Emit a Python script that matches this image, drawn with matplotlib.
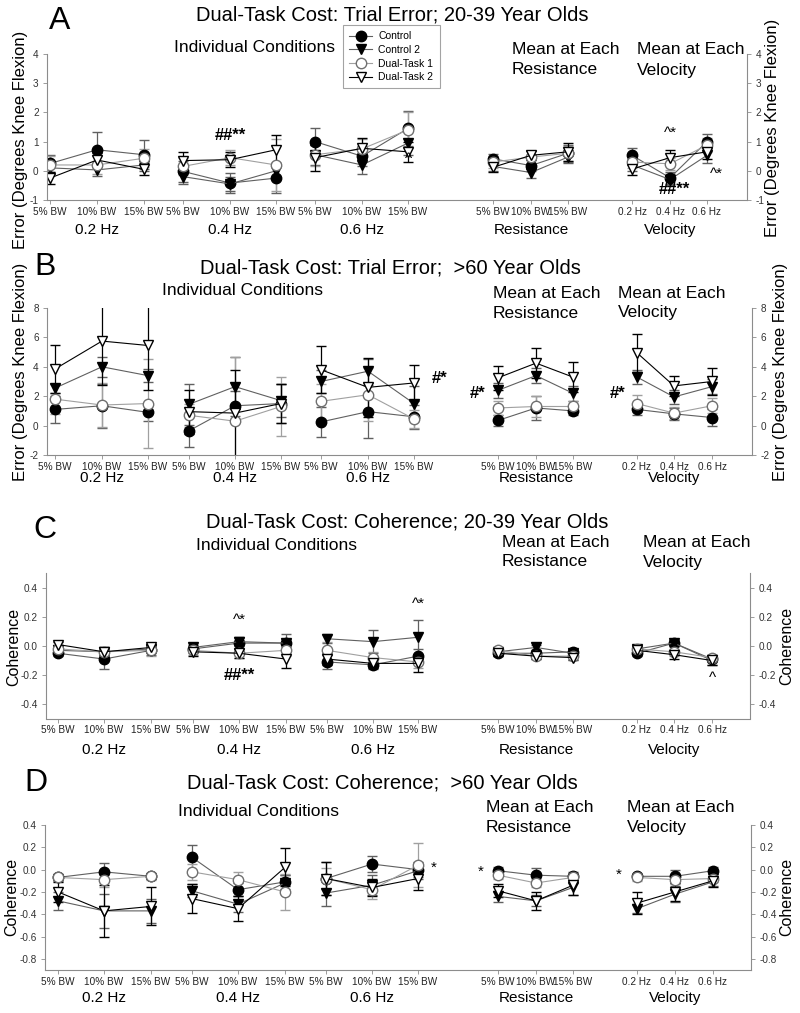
import matplotlib
matplotlib.use("Agg")
import matplotlib.pyplot as plt
from matplotlib.lines import Line2D
from matplotlib.ticker import FormatStrFormatter

plt.rcParams["font.family"] = ["Liberation Sans", "DejaVu Sans"]
plt.rcParams["axes.unicode_minus"] = False

W, H = 800, 1013

# x tick labels: 9 individual conditions, 3 resistances, 3 velocities
conditions = ["5% BW", "10% BW", "15% BW"] * 4 + ["0.2 Hz", "0.4 Hz", "0.6 Hz"]
groups = ["0.2 Hz", "0.4 Hz", "0.6 Hz", "Resistance", "Velocity"]
series_names = ["Control", "Control 2", "Dual-Task 1", "Dual-Task 2"]

# category positions (pixels across the page) for each panel
a_x = [50, 97, 144, 183, 230, 276, 315, 362, 408, 493, 531, 568, 632, 670, 707]
b_x = [55, 102, 148, 189, 235, 281, 321, 368, 414, 498, 536, 573, 637, 674, 712]
c_x = [58, 104, 151, 193, 239, 286, 327, 373, 418, 498, 536, 573, 637, 674, 712]
d_x = [58, 104, 151, 192, 238, 285, 326, 372, 418, 498, 536, 573, 637, 675, 713]

# A: trial error, 20-39 year olds
a_control = [0.25, 0.72, 0.55, -0.02, -0.42, -0.25, 1.0, 0.5, 1.45, 0.41, 0.18, 0.6, 0.53, -0.24, 1.0]
a_control2 = [0.1, 0.03, 0.2, -0.2, -0.45, 0.0, 0.55, 0.2, 0.95, 0.15, -0.06, 0.47, 0.2, -0.3, 0.53]
a_dt1 = [0.2, 0.2, 0.43, 0.15, 0.45, 0.2, 0.55, 0.75, 1.4, 0.3, 0.47, 0.6, 0.3, 0.24, 0.88]
a_dt2 = [-0.25, 0.37, 0.05, 0.35, 0.38, 0.72, 0.45, 0.77, 0.65, 0.12, 0.53, 0.65, 0.06, 0.45, 0.65]
a_control_err = [0.28, 0.6, 0.5, 0.35, 0.35, 0.5, 0.45, 0.35, 0.6, 0.15, 0.2, 0.3, 0.25, 0.2, 0.25]
a_control2_err = [0.2, 0.2, 0.2, 0.25, 0.25, 0.25, 0.35, 0.3, 0.4, 0.15, 0.2, 0.2, 0.2, 0.2, 0.25]
a_dt1_err = [0.3, 0.3, 0.3, 0.3, 0.25, 0.9, 0.4, 0.35, 0.6, 0.2, 0.2, 0.25, 0.2, 0.2, 0.25]
a_dt2_err = [0.2, 0.25, 0.2, 0.3, 0.25, 0.5, 0.45, 0.35, 0.35, 0.15, 0.15, 0.3, 0.2, 0.25, 0.25]
a_notes = [("##**", 230, 1.2), ("^", 408, 0.42), ("^*", 670, 1.3), ("##**", 674, -0.65), ("^*", 716, -0.1)]

# B: trial error, >60 year olds
b_control = [1.1, 1.35, 0.9, -0.35, 1.35, 1.5, 0.25, 0.95, 0.6, 0.35, 1.2, 1.0, 1.1, 0.8, 0.55]
b_control2 = [2.55, 4.0, 3.4, 1.45, 2.65, 1.7, 3.0, 3.7, 1.5, 2.4, 3.4, 2.2, 3.3, 1.95, 2.65]
b_dt1 = [1.8, 1.4, 1.5, 0.7, 0.3, 1.3, 1.65, 2.1, 0.45, 1.2, 1.3, 1.3, 1.5, 0.85, 1.35]
b_dt2 = [3.85, 5.75, 5.45, 0.95, 0.85, 1.5, 3.8, 2.6, 2.9, 3.25, 4.25, 3.3, 4.95, 2.7, 3.0]
b_control_err = [0.9, 1.5, 0.6, 1.1, 1.0, 1.3, 1.0, 1.8, 0.8, 0.4, 0.8, 0.3, 0.4, 0.4, 0.6]
b_control2_err = [0.3, 0.7, 0.45, 1.4, 2.0, 1.1, 0.8, 0.8, 1.2, 0.5, 0.5, 0.5, 0.5, 0.5, 0.5]
b_dt1_err = [1.0, 1.5, 3.0, 0.8, 4.4, 2.0, 1.2, 1.8, 0.6, 0.5, 0.7, 0.4, 0.6, 0.4, 0.5]
b_dt2_err = [1.6, 3.0, 3.0, 1.5, 2.9, 1.3, 1.6, 2.0, 1.2, 0.8, 1.0, 1.0, 1.3, 0.7, 0.9]
b_notes = [("#*", 440, 3.2), ("#*", 478, 2.2), ("#*", 618, 2.2)]

# C: coherence, 20-39 year olds
c_control = [-0.05, -0.09, -0.03, -0.02, 0.02, 0.02, -0.11, -0.13, -0.07, -0.05, -0.05, -0.04, -0.05, 0.02, -0.09]
c_control2 = [-0.03, -0.04, -0.02, -0.01, 0.03, 0.02, 0.05, 0.03, 0.06, -0.04, -0.01, -0.05, -0.02, 0.02, -0.1]
c_dt1 = [-0.02, -0.04, -0.03, -0.03, -0.05, -0.03, -0.03, -0.08, -0.11, -0.03, -0.07, -0.07, -0.02, -0.04, -0.08]
c_dt2 = [0.01, -0.04, -0.01, -0.04, -0.05, -0.09, -0.09, -0.12, -0.12, -0.05, -0.07, -0.08, -0.03, -0.06, -0.1]
c_control_err = [0.02, 0.07, 0.03, 0.03, 0.04, 0.06, 0.05, 0.03, 0.05, 0.02, 0.02, 0.02, 0.02, 0.02, 0.02]
c_control2_err = [0.02, 0.02, 0.02, 0.02, 0.03, 0.03, 0.03, 0.08, 0.12, 0.02, 0.02, 0.02, 0.02, 0.02, 0.03]
c_dt1_err = [0.03, 0.03, 0.04, 0.03, 0.03, 0.04, 0.06, 0.04, 0.04, 0.02, 0.02, 0.02, 0.02, 0.03, 0.02]
c_dt2_err = [0.02, 0.02, 0.02, 0.03, 0.03, 0.06, 0.04, 0.03, 0.06, 0.02, 0.02, 0.02, 0.02, 0.03, 0.03]
c_notes = [("^*", 239, 0.18), ("##**", 239, -0.2), ("^*", 418, 0.29), ("^", 712, -0.22)]

# D: coherence, >60 year olds
d_control = [-0.07, -0.02, -0.06, 0.11, -0.18, -0.11, -0.08, 0.05, 0.0, -0.01, -0.05, -0.06, -0.06, -0.06, -0.01]
d_control2 = [-0.28, -0.37, -0.37, -0.19, -0.31, -0.12, -0.21, -0.14, -0.01, -0.24, -0.28, -0.16, -0.35, -0.22, -0.11]
d_dt1 = [-0.07, -0.09, -0.06, -0.02, -0.09, -0.2, -0.08, -0.18, 0.04, -0.05, -0.12, -0.07, -0.07, -0.09, -0.08]
d_dt2 = [-0.2, -0.37, -0.33, -0.26, -0.35, 0.02, -0.08, -0.16, -0.08, -0.19, -0.28, -0.14, -0.3, -0.2, -0.1]
d_control_err = [0.03, 0.08, 0.02, 0.11, 0.06, 0.06, 0.15, 0.07, 0.07, 0.03, 0.06, 0.04, 0.02, 0.06, 0.03]
d_control2_err = [0.08, 0.15, 0.11, 0.06, 0.07, 0.07, 0.12, 0.09, 0.07, 0.05, 0.05, 0.07, 0.04, 0.07, 0.04]
d_dt1_err = [0.03, 0.07, 0.03, 0.07, 0.07, 0.16, 0.09, 0.08, 0.2, 0.03, 0.04, 0.05, 0.03, 0.04, 0.03]
d_dt2_err = [0.09, 0.23, 0.17, 0.13, 0.11, 0.17, 0.15, 0.08, 0.1, 0.06, 0.08, 0.09, 0.1, 0.08, 0.06]
d_notes = [("*", 434, 0.02), ("*", 481, -0.02), ("*", 619, -0.05)]

# marker, face, edge, line colour for each series
styles = [
    ("o", "black", "black", "#606060"),
    ("v", "black", "black", "#606060"),
    ("o", "white", "#707070", "#a0a0a0"),
    ("v", "white", "black", "black"),
]


def fig_xy(x, y):
    return x / W, 1 - y / H


def draw_panel(fig, letter, title, box, ylim, yticks, fmt, ylabel, ysize, xs, values, errors, notes, text_rows):
    left, top, right, bottom = box
    ax = fig.add_axes([left / W, 1 - bottom / H, (right - left) / W, (bottom - top) / H])
    for (marker, face, edge, colour), ys, es in zip(styles, values, errors):
        for g in range(5):
            part = slice(3 * g, 3 * g + 3)
            ax.errorbar(xs[part], ys[part], yerr=es[part], color=colour, lw=0.8,
                        marker=marker, ms=7.5, mfc=face, mec=edge, mew=1.0,
                        ecolor=colour, elinewidth=0.9, capsize=3.5, capthick=0.9)
    for label, x, y in notes:
        heavy = "#" in label
        ax.text(x, y, label, ha="center", va="center", fontsize=12 if heavy else 11,
                fontweight="bold" if heavy else "normal", clip_on=False)
    ax.set_xlim(left, right)
    ax.set_ylim(*ylim)
    ax.set_xticks(xs, conditions)
    ax.set_yticks(yticks)
    ax.yaxis.set_major_formatter(FormatStrFormatter(fmt))
    for side in ("left", "right", "bottom"):
        ax.spines[side].set_color("#8c8c8c")
        ax.spines[side].set_linewidth(0.8)
    ax.spines["top"].set_visible(False)
    ax.tick_params(axis="x", length=3, width=0.6, color="#8c8c8c", labelsize=7.2, pad=2, labelcolor="#222222")
    ax.tick_params(axis="y", length=3, width=0.6, color="#8c8c8c", labelsize=7.2, pad=3,
                   labelcolor="#333333", right=True, labelright=True)

    # panel letter, title, subtitles
    lx, ly, tx, ty, ix, iy, rx, vx, my, gy, yl, yr, ylx, yrx = text_rows
    fig.text(*fig_xy(lx, ly), letter, fontsize=23, ha="center", va="center")
    fig.text(*fig_xy(tx, ty), title, fontsize=14.5, ha="center", va="center")
    fig.text(*fig_xy(ix, iy), "Individual Conditions", fontsize=12.5, ha="center", va="center")
    for sx, word in ((rx, "Resistance"), (vx, "Velocity")):
        fig.text(*fig_xy(sx, my - 10), "Mean at Each", fontsize=12.5, ha="left", va="center")
        fig.text(*fig_xy(sx, my + 10), word, fontsize=12.5, ha="left", va="center")
    for g, name in enumerate(groups):
        fig.text(*fig_xy(xs[3 * g + 1], gy), name, fontsize=11, ha="center", va="center")
    fig.text(*fig_xy(ylx, yl), ylabel, fontsize=ysize, rotation=90, ha="center", va="center")
    fig.text(*fig_xy(yrx, yr), ylabel, fontsize=ysize, rotation=90, ha="center", va="center")
    return ax


fig = plt.figure(figsize=(W / 100, H / 100), dpi=100)

draw_panel(fig, "A", "Dual-Task Cost: Trial Error; 20-39 Year Olds", (47, 54, 747, 200),
           (-1, 4), [-1, 0, 1, 2, 3, 4], "%d", "Error (Degrees Knee Flexion)", 12, a_x,
           [a_control, a_control2, a_dt1, a_dt2],
           [a_control_err, a_control2_err, a_dt1_err, a_dt2_err], a_notes,
           (60, 21, 392, 15, 254, 47, 512, 637, 60, 230, 140, 128, 21, 773))

draw_panel(fig, "B", "Dual-Task Cost: Trial Error;  >60 Year Olds", (47, 308, 752, 455),
           (-2, 8), [-2, 0, 2, 4, 6, 8], "%d", "Error (Degrees Knee Flexion)", 12, b_x,
           [b_control, b_control2, b_dt1, b_dt2],
           [b_control_err, b_control2_err, b_dt1_err, b_dt2_err], b_notes,
           (45, 267, 390, 268, 242, 290, 493, 618, 303, 478, 372, 372, 21, 780))

draw_panel(fig, "C", "Dual-Task Cost: Coherence; 20-39 Year Olds", (46, 573.5, 750, 718.5),
           (-0.5, 0.5), [-0.4, -0.2, 0.0, 0.2, 0.4], "%.1f", "Coherence", 11.5, c_x,
           [c_control, c_control2, c_dt1, c_dt2],
           [c_control_err, c_control2_err, c_dt1_err, c_dt2_err], c_notes,
           (45, 530, 407, 522, 276, 545, 502, 643, 552, 750, 647, 646, 14, 787))

draw_panel(fig, "D", "Dual-Task Cost: Coherence;  >60 Year Olds", (45, 825, 751, 970),
           (-0.9, 0.4), [-0.8, -0.6, -0.4, -0.2, 0.0, 0.2, 0.4], "%.1f", "Coherence", 11.5, d_x,
           [d_control, d_control2, d_dt1, d_dt2],
           [d_control_err, d_control2_err, d_dt1_err, d_dt2_err], d_notes,
           (36, 783, 382, 783, 259, 812, 486, 627, 817, 998, 897, 897, 12, 787))

handles = [Line2D([], [], color=colour, lw=0.8, marker=marker, ms=7.5, mfc=face, mec=edge)
           for marker, face, edge, colour in styles]
legend = fig.legend(handles, series_names, loc="upper left", bbox_to_anchor=fig_xy(343, 25),
                    fontsize=7.5, frameon=True, fancybox=False, edgecolor="#8c8c8c",
                    handlelength=2.2, labelspacing=0.35, borderpad=0.6, handletextpad=0.6,
                    borderaxespad=0)
legend.get_frame().set_linewidth(0.8)

fig.savefig("out.png", dpi=100)
